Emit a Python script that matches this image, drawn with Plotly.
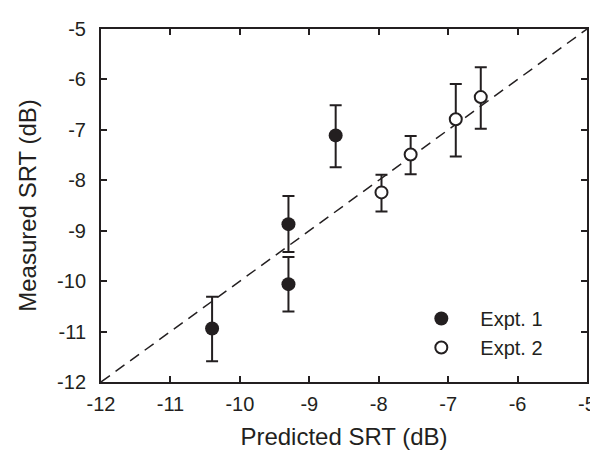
import plotly.graph_objects as go

# Data
exp1_x = [-10.40, -9.30, -9.30, -8.62]
exp1_y = [-10.94, -10.06, -8.87, -7.11]
exp1_hi = [-10.31, -9.52, -8.31, -6.51]
exp1_lo = [-11.59, -10.60, -9.42, -7.74]

exp2_x = [-7.96, -7.54, -6.89, -6.53]
exp2_y = [-8.24, -7.49, -6.79, -6.35]
exp2_hi = [-7.89, -7.12, -6.09, -5.76]
exp2_lo = [-8.62, -7.88, -7.53, -6.98]

identity = [-12, -5]
tick_vals = [-12, -11, -10, -9, -8, -7, -6, -5]
tick_text = ["-12", "-11", "-10", "-9", "-8", "-7", "-6", "-5"]

INK = "#231f20"
FONT = "Liberation Sans, Arial, sans-serif"

fig = go.Figure()
fig.add_trace(go.Scatter(
    x=identity, y=identity, mode="lines", showlegend=False,
    line=dict(color=INK, width=1.5, dash="11px,7px"), hoverinfo="skip"))

fig.add_trace(go.Scatter(
    x=exp1_x, y=exp1_y, mode="markers", name="Expt. 1",
    marker=dict(symbol="circle", size=14, color=INK, line=dict(width=0)),
    error_y=dict(type="data", symmetric=False,
                 array=[h - y for h, y in zip(exp1_hi, exp1_y)],
                 arrayminus=[y - l for l, y in zip(exp1_lo, exp1_y)],
                 color=INK, thickness=2, width=6)))

fig.add_trace(go.Scatter(
    x=exp2_x, y=exp2_y, mode="markers", name="Expt. 2",
    marker=dict(symbol="circle", size=12, color="white", line=dict(width=2, color=INK)),
    error_y=dict(type="data", symmetric=False,
                 array=[h - y for h, y in zip(exp2_hi, exp2_y)],
                 arrayminus=[y - l for l, y in zip(exp2_lo, exp2_y)],
                 color=INK, thickness=2, width=6)))

axis_common = dict(
    range=[-12, -5], tickmode="array", tickvals=tick_vals, ticktext=tick_text,
    ticks="inside", ticklen=6, tickwidth=2, tickcolor=INK,
    showline=True, linewidth=2, linecolor=INK, mirror="ticks",
    showgrid=False, zeroline=False,
    tickfont=dict(family=FONT, size=20, color=INK),
)

fig.update_layout(
    width=598, height=451,
    margin=dict(l=93, r=10, t=19, b=77),
    paper_bgcolor="white", plot_bgcolor="white",
    font=dict(family=FONT, color=INK),
    xaxis=dict(**axis_common, ticklabelstandoff=3,
               title=dict(text="Predicted SRT (dB)", font=dict(family=FONT, size=24, color=INK), standoff=14)),
    yaxis=dict(**axis_common, ticklabelstandoff=9,
               title=dict(text="Measured SRT (dB)", font=dict(family=FONT, size=24, color=INK), standoff=14)),
    legend=dict(x=0.62, y=0.235, xanchor="left", yanchor="top",
                bgcolor="rgba(0,0,0,0)", borderwidth=0, itemwidth=68,
                font=dict(family=FONT, size=20, color=INK), tracegroupgap=0),
    showlegend=True,
)

fig.write_html("out.html")
